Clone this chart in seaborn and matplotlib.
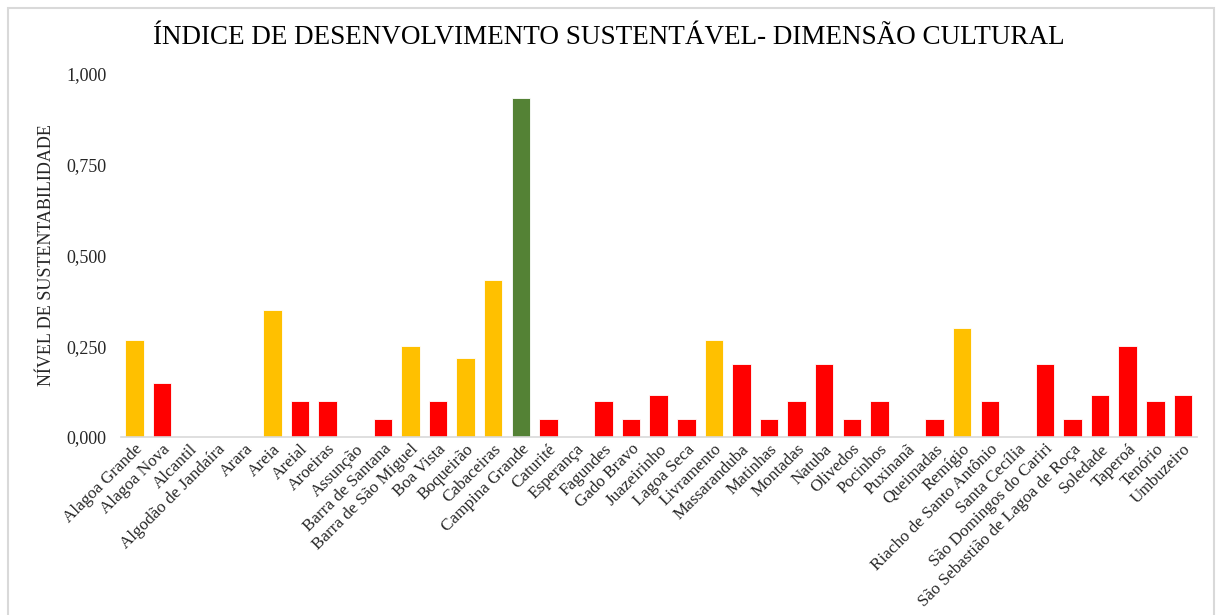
import matplotlib
matplotlib.use("Agg")
import matplotlib.pyplot as plt
from matplotlib.patches import Rectangle
from matplotlib.ticker import FuncFormatter
import seaborn as sns
import pandas as pd

municipios = [
    "Alagoa Grande", "Alagoa Nova", "Alcantil", "Algodão de Jandaíra", "Arara",
    "Areia", "Areial", "Aroeiras", "Assunção", "Barra de Santana",
    "Barra de São Miguel", "Boa Vista", "Boqueirão", "Cabaceiras", "Campina Grande",
    "Caturité", "Esperança", "Fagundes", "Gado Bravo", "Juazeirinho",
    "Lagoa Seca", "Livramento", "Massaranduba", "Matinhas", "Montadas",
    "Natuba", "Olivedos", "Pocinhos", "Puxinanã", "Queimadas",
    "Remígio", "Riacho de Santo Antônio", "Santa Cecília", "São Domingos do Cariri",
    "São Sebastião de Lagoa de Roça", "Soledade", "Taperoá", "Tenório", "Umbuzeiro",
]

indice = [
    0.267, 0.150, 0.000, 0.000, 0.000,
    0.350, 0.100, 0.100, 0.000, 0.050,
    0.250, 0.100, 0.217, 0.433, 0.933,
    0.050, 0.000, 0.100, 0.050, 0.117,
    0.050, 0.267, 0.200, 0.050, 0.100,
    0.200, 0.050, 0.100, 0.000, 0.050,
    0.300, 0.100, 0.000, 0.200,
    0.050, 0.117, 0.250, 0.100, 0.117,
]

nivel = [
    "médio", "baixo", "baixo", "baixo", "baixo",
    "médio", "baixo", "baixo", "baixo", "baixo",
    "médio", "baixo", "médio", "médio", "alto",
    "baixo", "baixo", "baixo", "baixo", "baixo",
    "baixo", "médio", "baixo", "baixo", "baixo",
    "baixo", "baixo", "baixo", "baixo", "baixo",
    "médio", "baixo", "baixo", "baixo",
    "baixo", "baixo", "baixo", "baixo", "baixo",
]

cores = {"baixo": "#FF0000", "médio": "#FFC000", "alto": "#548235"}

df = pd.DataFrame({"municipio": municipios, "indice": indice, "nivel": nivel})

sns.set_theme(style="white")
serif = ["Liberation Serif", "DejaVu Serif"]
plt.rcParams["font.family"] = serif

fig = plt.figure(figsize=(12.18, 6.15), dpi=100)
ax = fig.add_axes([120.7 / 1218, 1 - 437 / 615, 1076 / 1218, 363 / 615])

sns.barplot(data=df, x="municipio", y="indice", hue="nivel", palette=cores,
            dodge=False, width=0.67, legend=False, ax=ax,
            edgecolor="white", linewidth=0.6, saturation=1)

ax.set_ylim(0, 1.0)
ax.set_xlim(-0.5, len(municipios) - 0.5)
ax.set_yticks([0, 0.25, 0.5, 0.75, 1.0])
ax.yaxis.set_major_formatter(FuncFormatter(lambda v, p: f"{v:.3f}".replace(".", ",")))
ax.tick_params(axis="y", labelsize=13, length=0, pad=10, colors="#262626")
ax.tick_params(axis="x", labelsize=12.3, length=0, pad=3, colors="#262626")
plt.setp(ax.get_xticklabels(), rotation=45, ha="right", rotation_mode="anchor",
         family=serif)
plt.setp(ax.get_yticklabels(), family=serif)

for side in ["top", "right", "left"]:
    ax.spines[side].set_visible(False)
ax.spines["bottom"].set_color("#D9D9D9")
ax.spines["bottom"].set_linewidth(1.2)

ax.set_xlabel("")
ax.set_ylabel("NÍVEL DE SUSTENTABILIDADE", fontsize=13, color="#262626",
              labelpad=8, family=serif)

fig.text(0.5, 1 - 37 / 615, "ÍNDICE DE DESENVOLVIMENTO SUSTENTÁVEL- DIMENSÃO CULTURAL",
         ha="center", va="center", fontsize=19.5, color="#000000", family=serif)

# light frame around the chart area
fig.patches.append(Rectangle((8 / 1218, -0.05), (1214 - 8) / 1218, 1.05 - 8 / 615,
                             transform=fig.transFigure, fill=False,
                             edgecolor="#D9D9D9", linewidth=1.5))

fig.savefig("out.png", dpi=100)
